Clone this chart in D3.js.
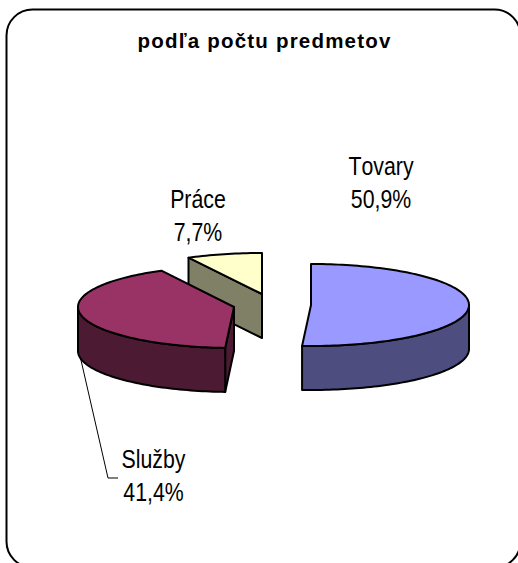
<!DOCTYPE html>
<html><head><meta charset="utf-8">
<script src="https://cdn.jsdelivr.net/npm/d3@7/dist/d3.min.js"></script>
<style>html,body{margin:0;padding:0;background:#fff}svg{display:block}text{font-family:"Liberation Sans",Arial,sans-serif;fill:#000;font-kerning:none}</style>
</head><body><svg width="518" height="563"></svg>
<script>
const categories = ["Tovary","Služby","Práce"];
const percents = [50.9,41.4,7.7];
const percentLabels = ["50,9%","41,4%","7,7%"];
const topColors = ["#9999FF","#993366","#FFFFCC"];
const sideColors = ["#4D4D80","#4D1A33","#808066"];
const centers = [[311,305],[234,307],[262,294]];
const radiiX = [158,156,158];
const labelPos = [[381,175],[153.5,468],[198,208]];
const RY=41, DEPTH=44, LINE_GAP=33.5;
const svg=d3.select("svg");
svg.append("rect").attr("x",6.5).attr("y",9.5).attr("width",514).attr("height",558).attr("rx",26).attr("ry",26)
  .attr("fill","#fff").attr("stroke","#000").attr("stroke-width",2);
svg.append("text").attr("x",264.5).attr("y",48).attr("text-anchor","middle").attr("font-weight","bold").attr("font-size",20.5).attr("letter-spacing",1.2).text("podľa počtu predmetov");
const arcs=d3.pie().sort(null).value(d=>d)(percents);
const sy=d3.scaleLinear().domain([-1,1]).range([-RY,RY]);
const line=d3.line();
function rim(i,a0,a1,c,dy){
  const sx=d3.scaleLinear().domain([-1,1]).range([-radiiX[i],radiiX[i]]);
  const n=Math.max(2,Math.ceil((a1-a0)*40));
  return d3.range(n+1).map(k=>{const t=a0+(a1-a0)*k/n;return [c[0]+sx(Math.sin(t)),c[1]+sy(-Math.cos(t))+dy];});}
function draw(pts,fill){svg.append("path").attr("d",line(pts)+"Z").attr("fill",fill).attr("stroke","#000").attr("stroke-width",2).attr("stroke-linejoin","round");}
function slice(i){const a=arcs[i],c=centers[i];
  const s=a.startAngle,e=a.endAngle;
  const p0=rim(i,s,s,c,0)[0];
  if(i>=1){draw([c,p0,[p0[0],p0[1]+DEPTH],[c[0],c[1]+DEPTH]],sideColors[i]);}
  const wa=Math.max(s,Math.PI/2),wb=Math.min(e,3*Math.PI/2);
  if(wb>wa){const t=rim(i,wa,wb,c,0),b=rim(i,wa,wb,c,DEPTH).reverse();draw(t.concat(b),sideColors[i]);}
  draw([c].concat(rim(i,s,e,c,0)),topColors[i]);
}
[2,1,0].forEach(slice);
svg.append("path").attr("d",line([[80.5,358],[108,478],[118,478]])).attr("fill","none").attr("stroke","#000").attr("stroke-width",1);
categories.forEach((n,i)=>{const p=labelPos[i];
  const t=svg.append("text").attr("text-anchor","middle").attr("font-size",26).attr("transform",`translate(${p[0]},${p[1]}) scale(0.82,1)`);
  t.append("tspan").attr("x",0).attr("y",0).text(n);
  t.append("tspan").attr("x",0).attr("y",LINE_GAP).text(percentLabels[i]);
});
</script></body></html>
